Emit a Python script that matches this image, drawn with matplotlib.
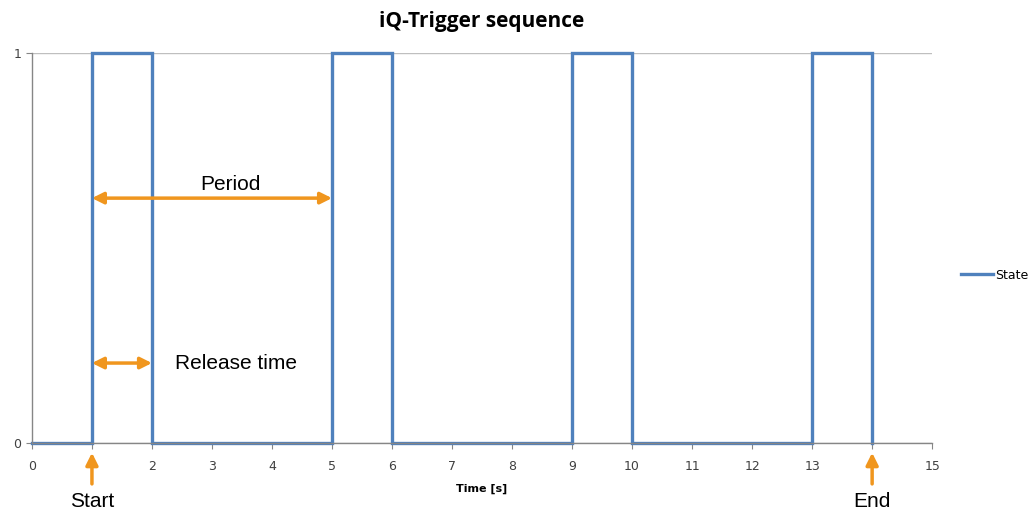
import matplotlib.pyplot as plt

# step sequence (state changes)
times = [0, 1, 2, 5, 6, 9, 10, 13, 14]
states = [0, 1, 0, 1, 0, 1, 0, 1, 0]

xtick_vals = list(range(16))
xtick_labels = ['0', '', '2', '3', '4', '5', '6', '7', '8', '9', '10', '11', '12', '13', '', '15']
ytick_vals = [0, 1]

period = (1, 5, 0.628)
release = (1, 2, 0.205)
start_t = 1
end_t = 14

blue = '#4f81bd'
orange = '#f0961e'
grey = '#868686'

fig = plt.figure(figsize=(10.3, 5.13), dpi=100)
ax = fig.add_axes([0.031, 0.1365, 0.874, 0.760])

ax.plot(times, states, drawstyle='steps-post', color=blue, lw=2.4, label='State',
        solid_joinstyle='miter', clip_on=False)

ax.set_xlim(0, 15)
ax.set_ylim(0, 1)
ax.set_xticks(xtick_vals)
ax.set_xticklabels(xtick_labels)
ax.set_yticks(ytick_vals)
ax.tick_params(axis='both', colors=grey, labelcolor='#404040', labelsize=9,
               length=4, width=0.8)
ax.tick_params(axis='x', pad=8)
ax.grid(axis='y', color='#bfbfbf', lw=1)
for s in ['top', 'right']:
    ax.spines[s].set_visible(False)
for s in ['left', 'bottom']:
    ax.spines[s].set_color(grey)
    ax.spines[s].set_linewidth(1)
ax.set_axisbelow(True)

ax.set_title('iQ-Trigger sequence', fontsize=15, fontweight='bold', family='Open Sans',
             pad=19)
ax.set_xlabel('Time [s]', fontsize=8, fontweight='bold', labelpad=8)

# annotations
arrow2 = dict(arrowstyle='<|-|>', color=orange, lw=2.5, mutation_scale=17,
              shrinkA=0, shrinkB=0)
ax.annotate('', xy=(period[1], period[2]), xytext=(period[0], period[2]), arrowprops=arrow2)
ax.text(3.3, 0.662, 'Period', fontsize=15, family='Liberation Sans', ha='center', va='center')
ax.annotate('', xy=(release[1], release[2]), xytext=(release[0], release[2]), arrowprops=arrow2)
ax.text(3.4, 0.203, 'Release time', fontsize=15, family='Liberation Sans', ha='center', va='center')

for t, lab in [(start_t, 'Start'), (end_t, 'End')]:
    ax.annotate('', xy=(t, -0.025), xytext=(t, -0.105), annotation_clip=False,
                arrowprops=dict(arrowstyle='-|>', color=orange, lw=2.5, mutation_scale=18,
                                shrinkA=0, shrinkB=0))
    ax.text(t, -0.15, lab, fontsize=15, family='Liberation Sans', ha='center', va='center',
            clip_on=False)

ax.legend(loc='center left', bbox_to_anchor=(1.02, 0.43), frameon=False, fontsize=9,
          handlelength=2.5, handletextpad=0.2)

fig.savefig('out.png', dpi=100)
